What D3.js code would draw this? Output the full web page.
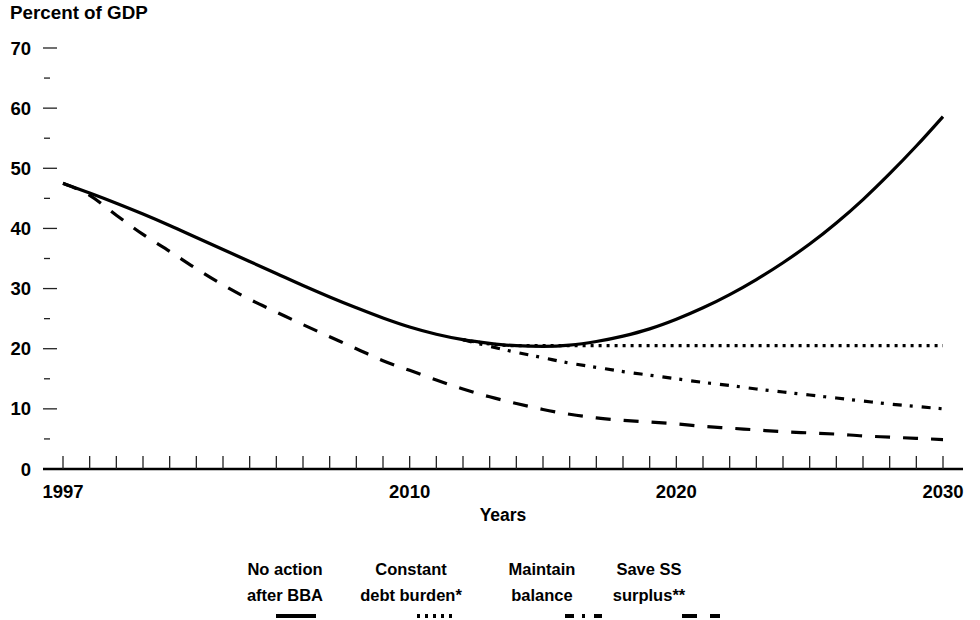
<!DOCTYPE html>
<html><head><meta charset="utf-8">
<script src="https://cdn.jsdelivr.net/npm/d3@7"></script>
<style>body{margin:0;background:#fff}svg{display:block}text{font-family:"Liberation Sans",Arial,sans-serif;font-weight:bold;fill:#000}</style>
</head><body>
<script>
const years = d3.range(1997, 2031);
const noAction = [47.5,45.9,44.2,42.4,40.5,38.5,36.5,34.5,32.5,30.5,28.6,26.8,25.1,23.6,22.4,21.5,20.9,20.5,20.4,20.6,21.2,22.1,23.3,24.9,26.8,29.0,31.5,34.3,37.4,40.9,44.8,49.1,53.7,58.6];
const constYears = d3.range(2012, 2031);
const constantDebt = [21.5,20.8,20.5,20.5,20.5,20.5,20.5,20.5,20.5,20.5,20.5,20.5,20.5,20.5,20.5,20.5,20.5,20.5,20.5];
const maintainBalance = [21.5,20.4,19.4,18.5,17.6,16.9,16.2,15.6,15.0,14.4,13.9,13.3,12.8,12.3,11.8,11.3,10.8,10.4,10.0];
const saveSurplus = [47.5,45.5,42.2,39.0,36.2,33.3,30.6,28.2,26.1,24.0,22.0,20.0,18.0,16.4,14.8,13.3,12.0,10.9,9.9,9.1,8.5,8.1,7.8,7.5,7.1,6.8,6.5,6.2,6.0,5.8,5.5,5.3,5.1,4.9];
const yMajor = [0,10,20,30,40,50,60,70];
const yMinor = [5,15,25,35,45,55,65];
const xLabels = [1997,2010,2020,2030];
const legendItems = [
  {lines:["No action","after BBA"], dash:null},
  {lines:["Constant","debt burden*"], dash:"3,5"},
  {lines:["Maintain","balance"], dash:"9,8,3,9"},
  {lines:["Save SS","surplus**"], dash:"15,13"}
];

const W=980,H=620;
const svg=d3.select("body").append("svg").attr("width",W).attr("height",H);
const x=d3.scaleLinear().domain([1997,2030]).range([63,943]);
const y=d3.scaleLinear().domain([0,70]).range([469,48]);

svg.append("text").attr("x",10).attr("y",19).attr("font-size",18.8).text("Percent of GDP");

// y ticks
svg.selectAll(".ymaj").data(yMajor.filter(d=>d>0)).join("line")
  .attr("x1",43).attr("x2",57).attr("y1",d=>y(d)).attr("y2",d=>y(d)).attr("stroke","#222").attr("stroke-width",1.3);
svg.selectAll(".ymin").data(yMinor).join("line")
  .attr("x1",44).attr("x2",50).attr("y1",d=>y(d)).attr("y2",d=>y(d)).attr("stroke","#222").attr("stroke-width",1.3);
svg.selectAll(".ylab").data(yMajor).join("text")
  .attr("x",31).attr("y",d=>y(d)+6.5).attr("text-anchor","end").attr("font-size",18.5).text(d=>d);

// x axis
svg.append("line").attr("x1",43).attr("x2",963).attr("y1",469).attr("y2",469).attr("stroke","#000").attr("stroke-width",2.5);
svg.selectAll(".xt").data(years).join("line")
  .attr("x1",d=>x(d)).attr("x2",d=>x(d)).attr("y1",456).attr("y2",469).attr("stroke","#222").attr("stroke-width",1.3);
svg.selectAll(".xl").data(xLabels).join("text")
  .attr("x",d=>x(d)).attr("y",498).attr("text-anchor","middle").attr("font-size",18.5).text(d=>d);
svg.append("text").attr("x",503).attr("y",521).attr("text-anchor","middle").attr("font-size",17.5).text("Years");

const line=(xs)=>d3.line().x((d,i)=>x(xs[i])).y(d=>y(d)).curve(d3.curveMonotoneX);
function draw(xs,vals,dash){
  const p=svg.append("path").attr("d",line(xs)(vals)).attr("fill","none").attr("stroke","#000").attr("stroke-width",3.2);
  if(dash) p.attr("stroke-dasharray",dash);
}
draw(years,saveSurplus,"15,13");
draw(constYears,maintainBalance,"9,8,3,9");
draw(constYears,constantDebt,"3,5");
draw(years,noAction,null);

// legend
const textX=[285,411,542,649];
const symX=[[276,316],[417,452],[565,602],[682,720]];
legendItems.forEach((it,i)=>{
  it.lines.forEach((t,j)=>{
    svg.append("text").attr("x",textX[i]).attr("y",575+j*26).attr("text-anchor","middle").attr("font-size",16.5).text(t);
  });
  const l=svg.append("line").attr("x1",symX[i][0]).attr("x2",symX[i][1]).attr("y1",616).attr("y2",616).attr("stroke","#000").attr("stroke-width",4);
  if(it.dash) l.attr("stroke-dasharray",it.dash);
});
</script>
</body></html>
